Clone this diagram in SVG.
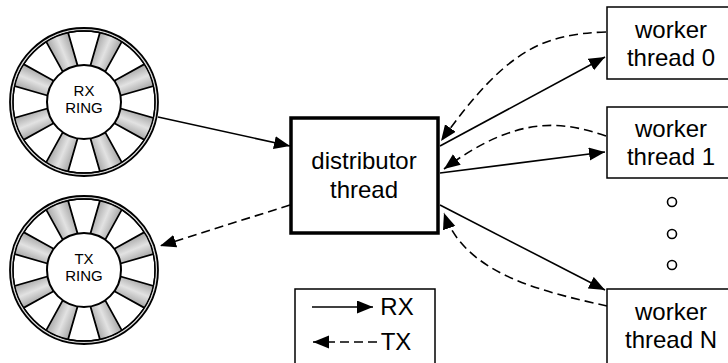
<svg xmlns="http://www.w3.org/2000/svg" width="728" height="363" viewBox="0 0 728 363">
  <style>
    .lbl { font-family: "Liberation Sans", Arial, Helvetica, sans-serif; fill: #000; text-anchor: middle; }
    .big { font-size: 24px; }
    .small { font-size: 15px; }
    .box { fill: #fff; stroke: #000; stroke-width: 1.5; }
    .dist { fill: #fff; stroke: #000; stroke-width: 3.5; }
    .solid { fill: none; stroke: #000; stroke-width: 1.6; marker-end: url(#arrow); }
    .dash { fill: none; stroke: #000; stroke-width: 1.6; stroke-dasharray: 9 5; marker-end: url(#arrow); }
    .dot { fill: #fff; stroke: #000; stroke-width: 1.6; }
  </style>
  <defs>
    <marker id="arrow" markerUnits="userSpaceOnUse" markerWidth="18" markerHeight="14" refX="16" refY="6.5" orient="auto">
      <path d="M0,0 L16,6.5 L0,13 Z" fill="#000" stroke="none"/>
    </marker>
    <linearGradient id="spokeGrad" x1="0" y1="0" x2="1" y2="0">
      <stop offset="0" stop-color="#a4a4a4"/>
      <stop offset="0.5" stop-color="#e2e2e2"/>
      <stop offset="1" stop-color="#a4a4a4"/>
    </linearGradient>
    <clipPath id="rimClip">
      <circle cx="0" cy="0" r="71"/>
    </clipPath>
    <polygon id="spoke" points="-7.3,-30 7.3,-30 12.5,-76 -12.5,-76" fill="url(#spokeGrad)" stroke="#000" stroke-width="1.8"/>
    <g id="ring">
      <circle cx="0" cy="0" r="74" fill="#d8d8d8" stroke="#000" stroke-width="1.8"/>
      <circle cx="0" cy="0" r="71" fill="#fff" stroke="#000" stroke-width="1.3"/>
      <g clip-path="url(#rimClip)">
        <use href="#spoke" transform="rotate(22.5)"/>
        <use href="#spoke" transform="rotate(67.5)"/>
        <use href="#spoke" transform="rotate(112.5)"/>
        <use href="#spoke" transform="rotate(157.5)"/>
        <use href="#spoke" transform="rotate(202.5)"/>
        <use href="#spoke" transform="rotate(247.5)"/>
        <use href="#spoke" transform="rotate(292.5)"/>
        <use href="#spoke" transform="rotate(337.5)"/>
      </g>
      <circle cx="0" cy="0" r="71" fill="none" stroke="#000" stroke-width="1.3"/>
      <circle cx="0" cy="0" r="37" fill="#fff" stroke="#000" stroke-width="2"/>
    </g>
  </defs>

  <g id="connectors">
    <line class="solid" x1="158" y1="117" x2="290" y2="146"/>
    <line class="dash" x1="290" y1="205" x2="160" y2="246"/>
    <line class="solid" x1="440" y1="146" x2="605" y2="57"/>
    <line class="solid" x1="440" y1="173" x2="605" y2="152"/>
    <line class="solid" x1="440" y1="205" x2="605" y2="290"/>
    <path class="dash" d="M606,32 C540,34 505,52 441,141"/>
    <path class="dash" d="M606,136 C560,120 515,116 444,169"/>
    <path class="dash" d="M607,306 C545,292 465,275 444,213"/>
  </g>

  <g id="rx-ring">
    <use href="#ring" transform="translate(84,102)"/>
    <text class="lbl small" x="84" y="96">RX</text>
    <text class="lbl small" x="84" y="113">RING</text>
  </g>

  <g id="tx-ring">
    <use href="#ring" transform="translate(84,270)"/>
    <text class="lbl small" x="84" y="264">TX</text>
    <text class="lbl small" x="84" y="281">RING</text>
  </g>

  <g id="distributor">
    <rect class="dist" x="291" y="118" width="147" height="115"/>
    <text class="lbl big" x="364" y="169">distributor</text>
    <text class="lbl big" x="364" y="198">thread</text>
  </g>

  <g id="worker0">
    <rect class="box" x="607" y="7" width="130" height="72"/>
    <text class="lbl big" x="671" y="38">worker</text>
    <text class="lbl big" x="671" y="66">thread 0</text>
  </g>

  <g id="worker1">
    <rect class="box" x="607" y="107" width="130" height="71"/>
    <text class="lbl big" x="671" y="137">worker</text>
    <text class="lbl big" x="671" y="165">thread 1</text>
  </g>

  <g id="ellipsis">
    <circle class="dot" cx="672" cy="202" r="4.5"/>
    <circle class="dot" cx="672" cy="234" r="4.5"/>
    <circle class="dot" cx="672" cy="265" r="4.5"/>
  </g>

  <g id="workerN">
    <rect class="box" x="607" y="289" width="130" height="80"/>
    <text class="lbl big" x="671" y="320">worker</text>
    <text class="lbl big" x="671" y="348">thread N</text>
  </g>

  <g id="legend">
    <rect class="box" x="295" y="289" width="140" height="80"/>
    <line class="solid" x1="312" y1="307" x2="373" y2="307"/>
    <line class="dash" x1="377" y1="342" x2="313" y2="342"/>
    <text class="lbl big" x="397" y="315">RX</text>
    <text class="lbl big" x="396" y="350">TX</text>
  </g>
</svg>
